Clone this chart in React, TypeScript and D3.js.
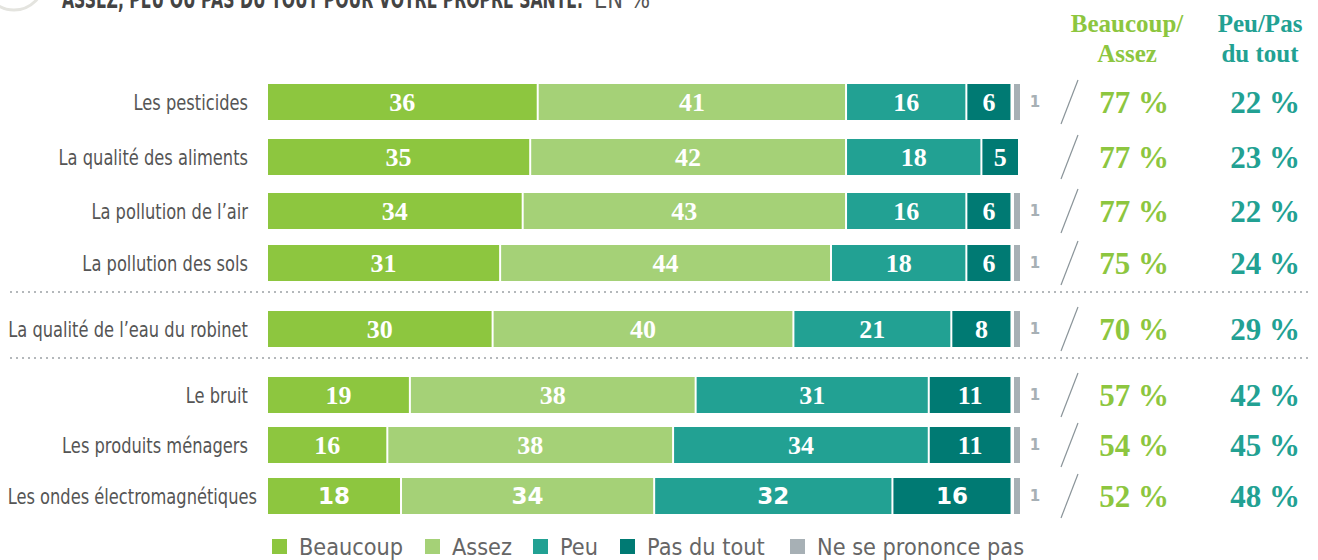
import { useEffect, useRef } from 'react';
import * as d3 from 'd3';

const categories = [
  'Les pesticides',
  'La qualité des aliments',
  'La pollution de l’air',
  'La pollution des sols',
  'La qualité de l’eau du robinet',
  'Le bruit',
  'Les produits ménagers',
  'Les ondes électromagnétiques',
];
const beaucoup = [36, 35, 34, 31, 30, 19, 16, 18];
const assez = [41, 42, 43, 44, 40, 38, 38, 34];
const peu = [16, 18, 16, 18, 21, 31, 34, 32];
const pasDuTout = [6, 5, 6, 6, 8, 11, 11, 16];
const nsp = [1, 0, 1, 1, 1, 1, 1, 1];
const totalBA = ['77 %', '77 %', '77 %', '75 %', '70 %', '57 %', '54 %', '52 %'];
const totalPP = ['22 %', '23 %', '22 %', '24 %', '29 %', '42 %', '45 %', '48 %'];
const seriesNames = ['Beaucoup', 'Assez', 'Peu', 'Pas du tout', 'Ne se prononce pas'];
const separatorsAfter = [3, 4];

const COLORS = ['#8dc63f', '#a5d177', '#22a193', '#007a73', '#a7b0b5'];
const SANS = '"DejaVu Sans", sans-serif';
const NUM_FONT = '"Liberation Serif", "DejaVu Serif", serif';

export default function App() {
  const svgRef = useRef<SVGSVGElement>(null);
  const width = 1318;
  const height = 560;

  useEffect(() => {
    document.body.style.margin = '0';
    if (!svgRef.current) return;
    const svg = d3.select(svgRef.current);
    svg.selectAll('*').remove();

    // row centres, with the extra gaps where the dotted separators are
    const y = d3.scaleOrdinal<number, number>()
      .domain(d3.range(categories.length))
      .range([102, 157, 211, 263, 329, 395, 445, 496]);
    const barH = 36;

    // Title (cut off at top)
    svg.append('circle')
      .attr('cx', 14).attr('cy', -20).attr('r', 30)
      .attr('fill', 'none').attr('stroke', '#e4e4df').attr('stroke-width', 3);
    svg.append('text')
      .attr('x', 62).attr('y', 8)
      .attr('textLength', 521).attr('lengthAdjust', 'spacingAndGlyphs')
      .style('font-family', SANS)
      .style('font-weight', 'bold')
      .style('font-size', '25px')
      .style('fill', '#444')
      .text('ASSEZ, PEU OU PAS DU TOUT POUR VOTRE PROPRE SANTÉ.');
    svg.append('text')
      .attr('x', 594).attr('y', 8)
      .attr('textLength', 56).attr('lengthAdjust', 'spacingAndGlyphs')
      .style('font-family', SANS)
      .style('font-size', '25px')
      .style('fill', '#555')
      .text('EN %');

    // Column headers
    const headers = [
      { x: 1127, lines: ['Beaucoup/', 'Assez'], color: COLORS[0] },
      { x: 1260, lines: ['Peu/Pas', 'du tout'], color: COLORS[2] },
    ];
    headers.forEach((h) => {
      h.lines.forEach((l, i) => {
        svg.append('text')
          .attr('x', h.x).attr('y', 32 + i * 30)
          .attr('text-anchor', 'middle')
          .style('font-family', NUM_FONT)
          .style('font-weight', 'bold')
          .style('font-size', '25px')
          .style('fill', h.color)
          .text(l);
      });
    });

    // Separators
    separatorsAfter.forEach((i) => {
      const sy = (y(i) + y(i + 1)) / 2 - 4;
      svg.append('line')
        .attr('x1', 10).attr('x2', 1308)
        .attr('y1', sy).attr('y2', sy)
        .attr('stroke', '#b4b8bb')
        .attr('stroke-width', 2)
        .attr('stroke-dasharray', '2,4');
    });

    const series = [beaucoup, assez, peu, pasDuTout, nsp];

    categories.forEach((cat, r) => {
      const cy = y(r);
      const g = svg.append('g');
      const last = r === categories.length - 1;

      // condensed look: squeeze DejaVu horizontally
      g.append('text')
        .attr('transform', `translate(${last ? 257 : 248},${cy}) scale(0.74,1)`)
        .attr('dy', '0.35em')
        .attr('text-anchor', 'end')
        .style('font-family', SANS)
        .style('font-size', '22px')
        .style('fill', '#555')
        .text(cat);

      const total = d3.sum(series, (s) => s[r]);
      const x = d3.scaleLinear().domain([0, total]).range([268, 1020]);

      let acc = 0;
      series.forEach((s, k) => {
        const v = s[r];
        if (!v) return;
        const x0 = x(acc);
        const x1 = x(acc + v);
        acc += v;
        const w = k === 4 ? 6 : x1 - x0 - 2;
        g.append('rect')
          .attr('x', k === 4 ? 1014 : x0).attr('y', cy - barH / 2)
          .attr('width', w).attr('height', barH)
          .attr('fill', COLORS[k]);
        if (k < 4) {
          g.append('text')
            .attr('x', x0 + (x1 - x0 - 2) / 2).attr('y', cy).attr('dy', '0.36em')
            .attr('text-anchor', 'middle')
            .style('font-family', last ? SANS : NUM_FONT)
            .style('font-weight', 'bold')
            .style('font-size', last ? '23px' : '26px')
            .style('fill', '#fff')
            .text(v);
        } else {
          g.append('text')
            .attr('x', 1035).attr('y', cy).attr('dy', '0.36em')
            .attr('text-anchor', 'middle')
            .style('font-family', SANS)
            .style('font-weight', 'bold')
            .style('font-size', '15px')
            .style('fill', '#a7b0b5')
            .text(v);
        }
      });

      g.append('line')
        .attr('x1', 1061).attr('x2', 1078)
        .attr('y1', cy + 22).attr('y2', cy - 22)
        .attr('stroke', '#8a9499').attr('stroke-width', 1.2);

      g.append('text')
        .attr('x', 1134).attr('y', cy).attr('dy', '0.36em')
        .attr('text-anchor', 'middle')
        .style('font-family', NUM_FONT)
        .style('font-weight', 'bold')
        .style('font-size', '31px')
        .style('fill', COLORS[0])
        .text(totalBA[r]);
      g.append('text')
        .attr('x', 1265).attr('y', cy).attr('dy', '0.36em')
        .attr('text-anchor', 'middle')
        .style('font-family', NUM_FONT)
        .style('font-weight', 'bold')
        .style('font-size', '31px')
        .style('fill', COLORS[2])
        .text(totalPP[r]);
    });

    // Legend
    const legendX = [272, 425, 533, 620, 790];
    seriesNames.forEach((name, i) => {
      svg.append('rect')
        .attr('x', legendX[i]).attr('y', 539)
        .attr('width', 15).attr('height', 15)
        .attr('fill', COLORS[i]);
      svg.append('text')
        .attr('transform', `translate(${legendX[i] + 27},547) scale(0.91,1)`)
        .attr('dy', '0.36em')
        .style('font-family', SANS)
        .style('font-size', '23px')
        .style('fill', '#666')
        .text(name);
    });
  }, []);

  return (
    <div style={{ width, height, overflow: 'hidden', background: '#fff' }}>
      <svg ref={svgRef} width={width} height={height} style={{ display: 'block' }} />
    </div>
  );
}
